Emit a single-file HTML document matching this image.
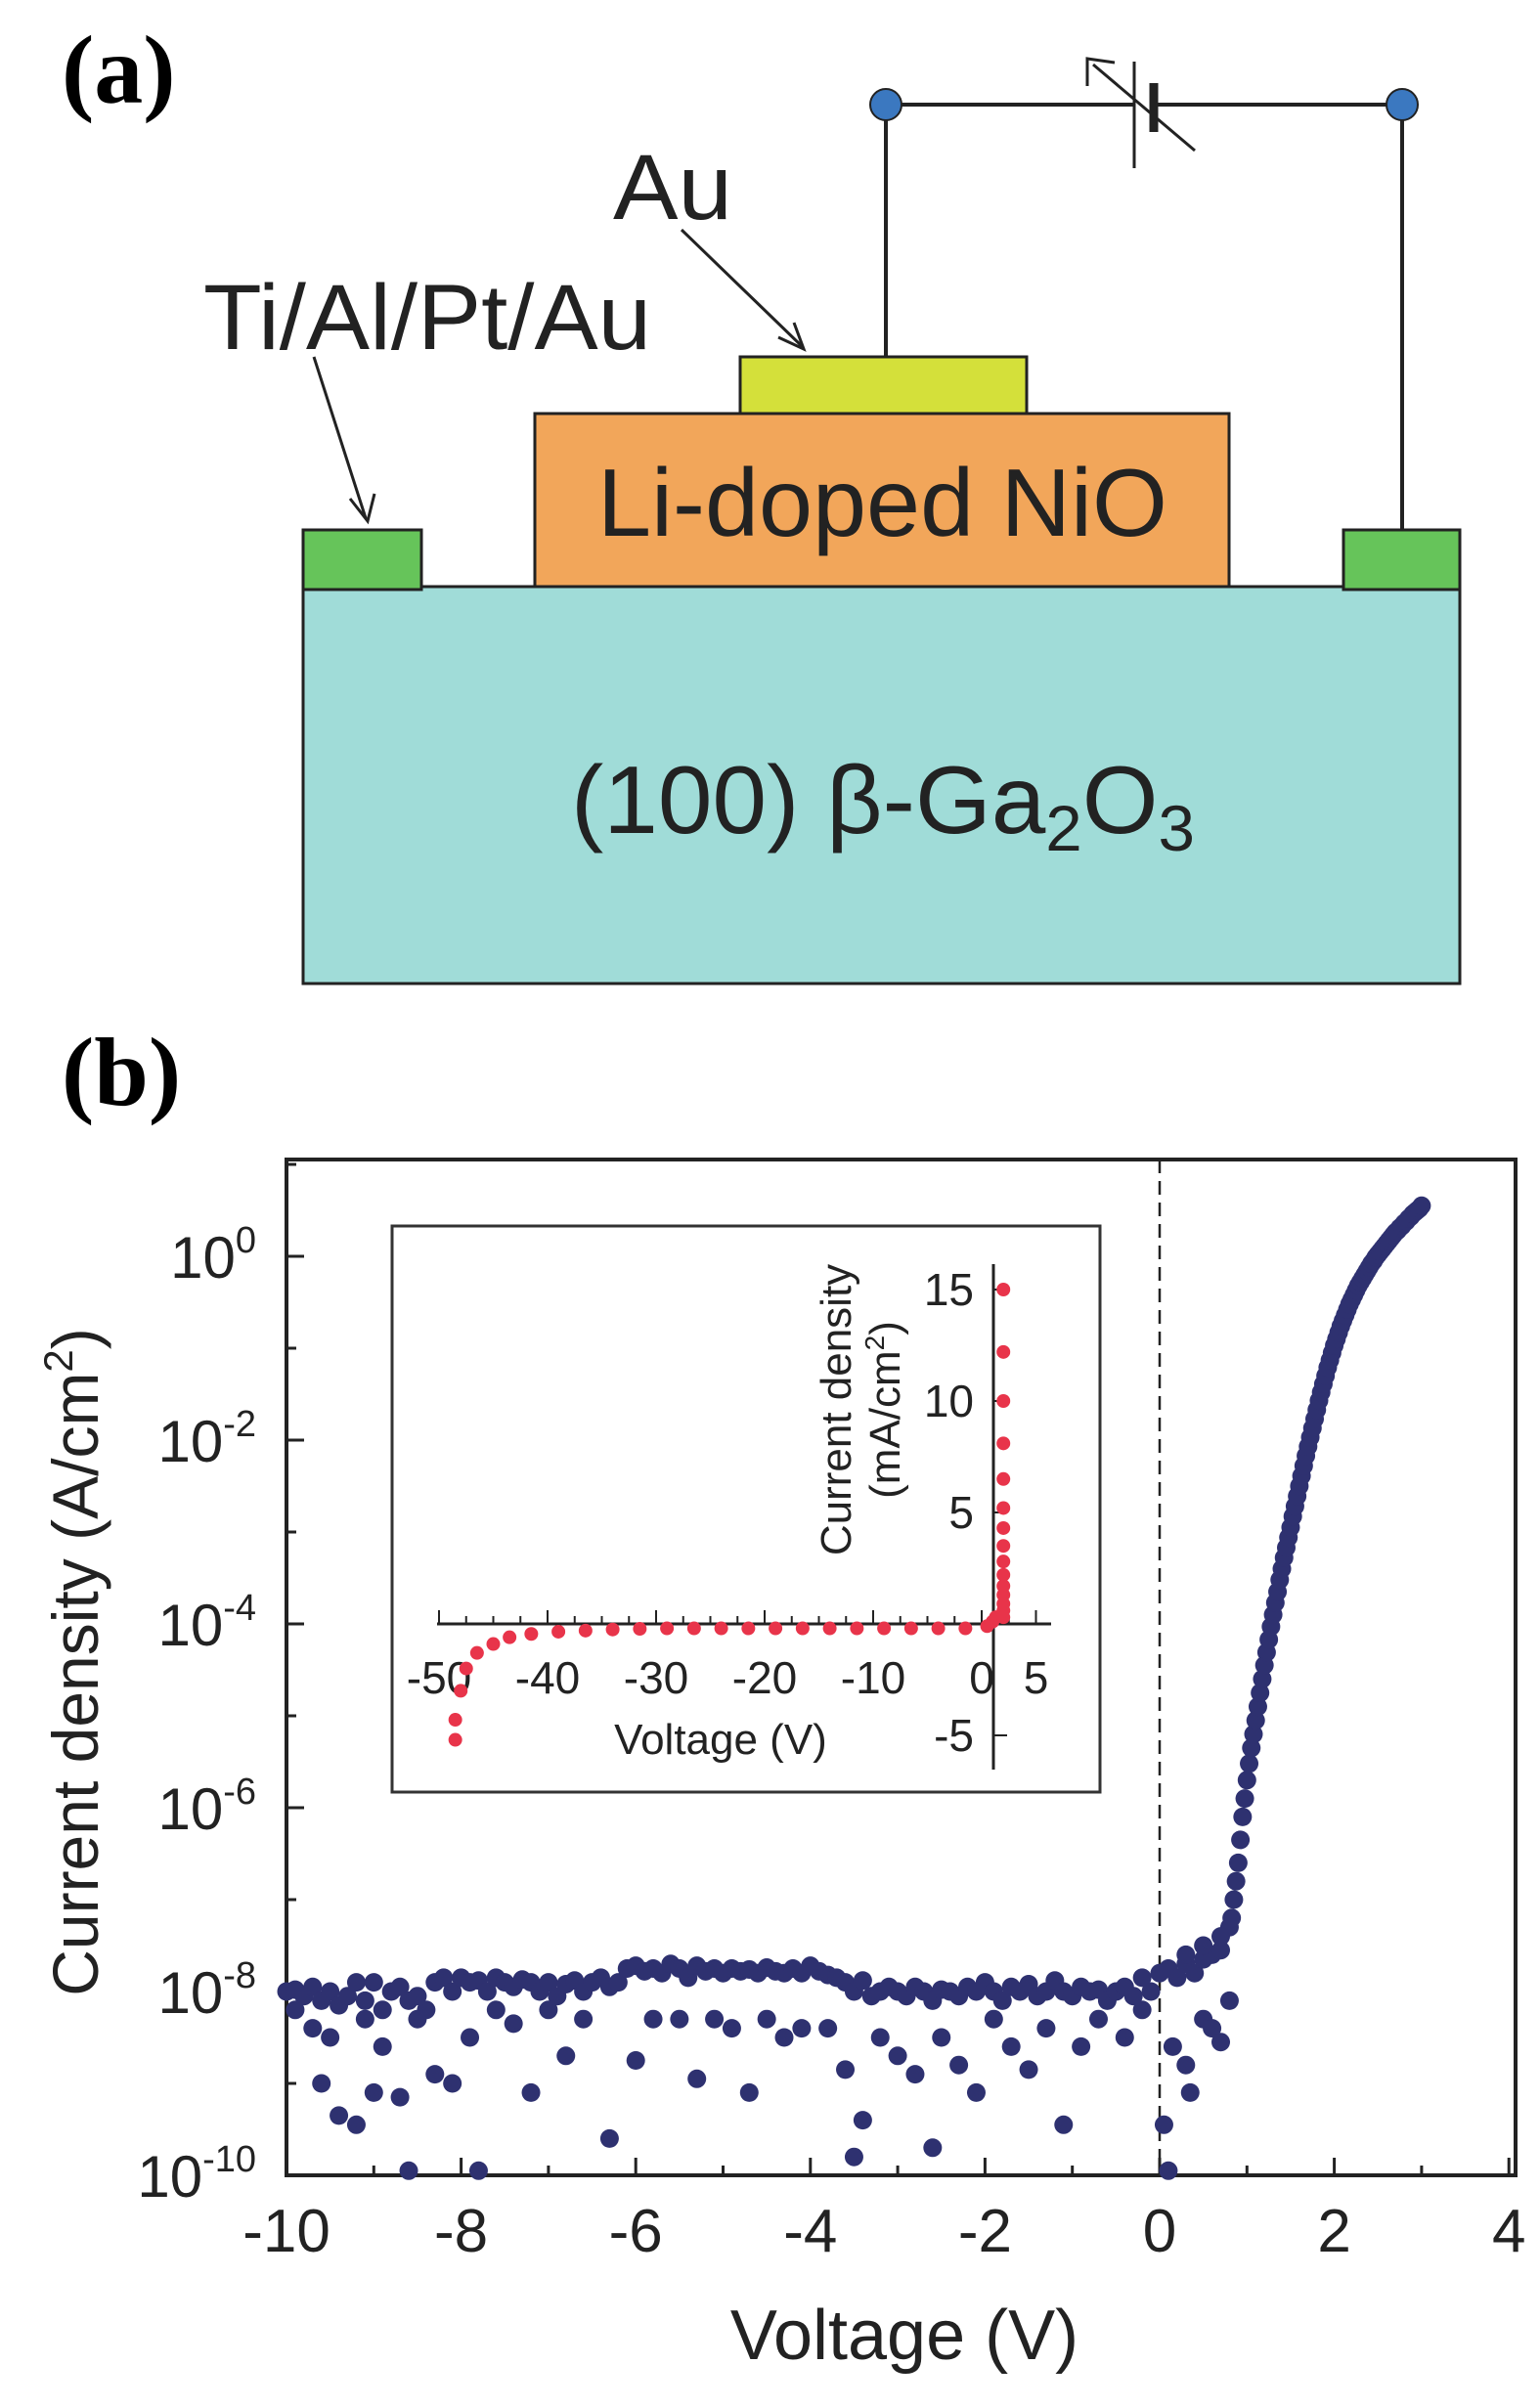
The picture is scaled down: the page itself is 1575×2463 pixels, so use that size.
<!DOCTYPE html>
<html><head><meta charset="utf-8"><style>
html,body{margin:0;padding:0;background:#fff;}
svg{display:block;font-family:"Liberation Sans",Arial,sans-serif;}
</style></head><body>
<svg id="fig" width="1575" height="2463" viewBox="0 0 1575 2463">
<g>
<text x="63" y="105" font-family="Liberation Serif,serif" font-weight="bold" font-size="100">(a)</text>
<rect x="310" y="600" width="1183" height="406" fill="#a0dcd8" stroke="#222" stroke-width="3"/>
<rect x="547" y="423" width="710" height="177" fill="#f2a65a" stroke="#222" stroke-width="3"/>
<rect x="757" y="365" width="293" height="58" fill="#d4e03a" stroke="#222" stroke-width="3"/>
<rect x="310" y="542" width="121" height="61" fill="#66c45a" stroke="#222" stroke-width="3"/>
<rect x="1374" y="542" width="119" height="61" fill="#66c45a" stroke="#222" stroke-width="3"/>
<g stroke="#222" stroke-width="4" fill="none">
<line x1="906" y1="107" x2="906" y2="365"/>
<line x1="1434" y1="107" x2="1434" y2="542"/>
<line x1="906" y1="107" x2="1160" y2="107"/>
<line x1="1180" y1="107" x2="1434" y2="107"/>
</g>
<line x1="1160" y1="63" x2="1160" y2="172" stroke="#222" stroke-width="3"/>
<line x1="1180" y1="85" x2="1180" y2="135" stroke="#222" stroke-width="9"/>
<line x1="1222" y1="154" x2="1118" y2="66" stroke="#222" stroke-width="3"/>
<polyline points="1112,88 1112,60 1140,64" fill="none" stroke="#222" stroke-width="3"/>
<circle cx="906" cy="107" r="16" fill="#3b78c0" stroke="#222" stroke-width="2"/>
<circle cx="1434" cy="107" r="16" fill="#3b78c0" stroke="#222" stroke-width="2"/>
<text x="627" y="224" font-size="95" textLength="122" lengthAdjust="spacingAndGlyphs" fill="#222">Au</text>
<text x="208" y="357" font-size="95" textLength="458" lengthAdjust="spacingAndGlyphs" fill="#222">Ti/Al/Pt/Au</text>
<line x1="697" y1="235" x2="820" y2="354" stroke="#222" stroke-width="3"/>
<polyline points="796,345 822,357 812,330" fill="none" stroke="#222" stroke-width="3"/>
<line x1="321" y1="365" x2="374" y2="530" stroke="#222" stroke-width="3"/>
<polyline points="358,510 376,533 383,505" fill="none" stroke="#222" stroke-width="3"/>
<text x="611" y="548" font-size="98" textLength="583" lengthAdjust="spacingAndGlyphs" fill="#222">Li-doped NiO</text>
<text x="584" y="852" font-size="98" textLength="638" lengthAdjust="spacingAndGlyphs" fill="#222">(100) β-Ga<tspan font-size="66" dy="18">2</tspan><tspan dy="-18">O</tspan><tspan font-size="66" dy="18">3</tspan></text>
</g>
<g id="pb">
<text x="63" y="1130" font-family="Liberation Serif,serif" font-weight="bold" font-size="100">(b)</text>
</g>
</svg>
<script>
// main plot data
const fwdStartV=0.825, fwdStepV=0.025;
const fwdLogJ=[-7.2,-7.0,-6.8,-6.6,-6.35,-6.1,-5.9,-5.7,-5.52,-5.35,-5.2,-5.05,-4.9,-4.75,-4.6,-4.45,-4.31,-4.17,-4.03,-3.9,-3.77,-3.65,-3.52,-3.4,-3.28,-3.17,-3.06,-2.95,-2.83,-2.72,-2.61,-2.5,-2.39,-2.28,-2.17,-2.07,-1.97,-1.87,-1.77,-1.67,-1.57,-1.48,-1.39,-1.3,-1.21,-1.13,-1.05,-0.97,-0.9,-0.83,-0.76,-0.7,-0.64,-0.58,-0.52,-0.47,-0.42,-0.37,-0.32,-0.28,-0.24,-0.2,-0.16,-0.12,-0.08,-0.05,-0.01,0.02,0.05,0.08,0.11,0.14,0.17,0.2,0.23,0.26,0.28,0.31,0.33,0.36,0.38,0.41,0.43,0.46,0.48,0.5,0.52,0.55];
const bandStartV=-10, bandStepV=0.1;
const bandLogJ=[-8.0,-7.98,-8.05,-7.95,-8.1,-8.0,-8.15,-8.05,-7.9,-8.1,
-7.9,-8.2,-8.0,-7.95,-8.1,-8.05,-8.2,-7.9,-7.85,-8.0,
-7.85,-7.9,-7.88,-8.0,-7.85,-7.9,-7.95,-7.87,-7.9,-8.0,
-7.9,-8.05,-7.92,-7.88,-8.0,-7.9,-7.85,-7.95,-7.9,-7.75,
-7.72,-7.78,-7.75,-7.8,-7.7,-7.75,-7.85,-7.72,-7.78,-7.75,
-7.8,-7.75,-7.78,-7.76,-7.8,-7.74,-7.78,-7.8,-7.75,-7.8,
-7.72,-7.78,-7.82,-7.85,-7.9,-8.0,-7.88,-8.05,-8.0,-7.95,
-8.0,-8.05,-7.95,-8.0,-8.1,-7.98,-8.0,-8.05,-7.95,-8.0,
-7.9,-8.0,-8.1,-7.95,-8.0,-7.92,-8.05,-8.0,-7.88,-8.0,
-8.05,-7.95,-8.0,-7.98,-8.1,-8.0,-7.95,-8.05,-7.85,-8.0,
-7.8,-7.75,-7.85,-7.7,-7.8,-7.65,-7.6,-7.55,-7.3];
const scatterV=[-9.9,-9.7,-9.6,-9.4,-9.5,-9.2,-9.1,-9.0,-8.9,-8.7,-8.6,-8.5,-8.3,-8.1,-7.9,-7.8,-7.6,-7.4,-7.2,-7.0,-6.8,-6.6,-6.3,-6.0,-5.8,-5.5,-5.3,-5.1,-4.9,-4.7,-4.5,-4.3,-4.1,-3.8,-3.6,-3.5,-3.4,-3.2,-3.0,-2.8,-2.6,-2.5,-2.3,-2.1,-1.9,-1.7,-1.5,-1.3,-1.1,-0.9,-0.7,-0.4,-0.2,0.05,0.1,0.15,0.3,0.35,0.5,0.6,0.7,0.8,0.3,0.5,0.7];
const scatterLogJ=[-8.2,-8.4,-9.0,-9.35,-8.5,-9.45,-8.3,-9.1,-8.6,-9.15,-9.95,-8.3,-8.9,-9.0,-8.5,-9.95,-8.2,-8.35,-9.1,-8.2,-8.7,-8.3,-9.6,-8.75,-8.3,-8.3,-8.95,-8.3,-8.4,-9.1,-8.3,-8.5,-8.4,-8.4,-8.85,-9.8,-9.4,-8.5,-8.7,-8.9,-9.7,-8.5,-8.8,-9.1,-8.3,-8.6,-8.85,-8.4,-9.45,-8.6,-8.3,-8.5,-8.2,-9.45,-9.95,-8.6,-8.8,-9.1,-8.3,-8.4,-8.55,-8.1,-7.6,-7.5,-7.4];
const xTickVals=[-10,-8,-6,-4,-2,0,2,4];
const xTickLabels=["-10","-8","-6","-4","-2","0","2","4"];
const yTickExps=[0,-2,-4,-6,-8,-10];
const yTickLabels=["0","-2","-4","-6","-8","-10"];
// inset data
const insetRevV=[-48.5,-48.5,-48,-47.5,-46.5,-45,-43.5,-41.5,-39,-36.5,-34,-31.5,-29,-26.5,-24,-21.5,-19,-16.5,-14,-11.5,-9,-6.5,-4,-1.5,0.5,1,1.3];
const insetRevJ=[-5.2,-4.3,-3.0,-2.0,-1.3,-0.9,-0.6,-0.45,-0.35,-0.3,-0.25,-0.22,-0.2,-0.2,-0.2,-0.2,-0.2,-0.2,-0.2,-0.2,-0.2,-0.2,-0.2,-0.2,-0.1,0.1,0.3];
const insetFwdV=[2,2,2,2,2,2,2,2,2,2,2,2,2,2,2];
const insetFwdJ=[15,12.2,10,8.1,6.5,5.2,4.3,3.5,2.8,2.2,1.7,1.3,0.9,0.6,0.3];
const insetXTicks=[-50,-40,-30,-20,-10,0,5];
const insetXLabels=["-50","-40","-30","-20","-10","0","5"];
const insetYTicks=[15,10,5,-5];
const insetYLabels=["15","10","5","-5"];

const NS="http://www.w3.org/2000/svg";
const pb=document.getElementById('pb');
function mk(tag,attrs,parent){const e=document.createElementNS(NS,tag);for(const k in attrs)e.setAttribute(k,attrs[k]);(parent||pb).appendChild(e);return e;}
const X0=293,XU=89.3,Y0=1285,YD=94;
const sx=v=>X0+(v+10)*XU;
const sy=l=>Y0-l*YD;
const L=293,R=1550,T=1186,B=2225;

const frame=mk('rect',{x:L,y:T,width:R-L,height:B-T,fill:'none',stroke:'#222','stroke-width':4});


const dz=mk('line',{x1:sx(0),x2:sx(0),y1:T,y2:B,stroke:'#222','stroke-width':2.5,'stroke-dasharray':'14,8'});


for(let v=-10;v<=4;v++){
  const major=(v%2===0);
  const t=mk('line',{x1:sx(v),x2:sx(v),y1:B,y2:B-(major?18:10),stroke:'#222','stroke-width':3});
  
  
}
xTickVals.forEach((v,i)=>{
  const t=mk('text',{x:sx(v),y:2303,'font-size':62,'text-anchor':'middle',fill:'#222'});
  t.textContent=xTickLabels[i];
  
  
});
for(let e=1;e>=-10;e--){
  const major=(e%2===0);
  const t=mk('line',{x1:L,x2:L+(major?18:10),y1:sy(e),y2:sy(e),stroke:'#222','stroke-width':3});
  
  
}
yTickExps.forEach((e,i)=>{
  const t=mk('text',{x:262,y:sy(e)+22,'font-size':60,'text-anchor':'end',fill:'#222'});
  const a=document.createElementNS(NS,'tspan');a.textContent='10';t.appendChild(a);
  const s=document.createElementNS(NS,'tspan');s.setAttribute('font-size','38');s.setAttribute('dy','-26');s.textContent=yTickLabels[i];t.appendChild(s);
  
  
});
const xt=mk('text',{x:925,y:2413,'font-size':72,'text-anchor':'middle',fill:'#222'});
xt.textContent='Voltage  (V)';


const yt=mk('text',{x:0,y:0,'font-size':66,'text-anchor':'middle',fill:'#222',transform:'translate(100,1700) rotate(-90)'});
yt.innerHTML='Current density  (A/cm<tspan font-size="42" dy="-26">2</tspan><tspan dy="26">)</tspan>';



const C='#2e3170',RB=9.5;
bandLogJ.forEach((l,i)=>{
  const c=mk('circle',{cx:sx(bandStartV+i*bandStepV),cy:sy(l),r:RB,fill:C});
  
  
});
scatterV.forEach((v,i)=>{
  const c=mk('circle',{cx:sx(v),cy:sy(scatterLogJ[i]),r:RB,fill:C});
  
  
});
fwdLogJ.forEach((l,i)=>{
  const c=mk('circle',{cx:sx(fwdStartV+i*fwdStepV),cy:sy(l),r:RB,fill:C});
  
  
});

const inset=mk('rect',{x:401,y:1254,width:724,height:579,fill:'#fff',stroke:'#333','stroke-width':3});


const IX0=1004,IXU=11.1,IY0=1661,IYU=22.8;
const ix=v=>IX0+v*IXU;
const iy=j=>IY0-j*IYU;
const ixa=mk('line',{x1:447,x2:1075,y1:IY0,y2:IY0,stroke:'#222','stroke-width':3});


const iya=mk('line',{x1:1016,x2:1016,y1:1293,y2:1810,stroke:'#222','stroke-width':3});


for(let v=-50;v<=5;v+=2.5){
  const major=(v%10===0)||v===5;
  const t=mk('line',{x1:ix(v),x2:ix(v),y1:IY0,y2:IY0-(major?14:8),stroke:'#222','stroke-width':2});
  
  
}
insetXTicks.forEach((v,i)=>{
  const t=mk('text',{x:ix(v),y:1732,'font-size':46,'text-anchor':'middle',fill:'#222'});
  t.textContent=insetXLabels[i];
  
  
});
insetYTicks.forEach((j,i)=>{
  const tk=mk('line',{x1:1016,x2:1030,y1:iy(j),y2:iy(j),stroke:'#222','stroke-width':2});
  
  
  const t=mk('text',{x:996,y:iy(j)+16,'font-size':46,'text-anchor':'end',fill:'#222'});
  t.textContent=insetYLabels[i];
  
  
});
const ixt=mk('text',{x:737,y:1794,'font-size':44,'text-anchor':'middle',fill:'#222'});
ixt.textContent='Voltage  (V)';


const iyt1=mk('text',{x:0,y:0,'font-size':44,'text-anchor':'middle',fill:'#222',transform:'translate(870,1442) rotate(-90)'});
iyt1.textContent='Current density';


const iyt2=mk('text',{x:0,y:0,'font-size':44,'text-anchor':'middle',fill:'#222',transform:'translate(920,1442) rotate(-90)'});
iyt2.innerHTML='(mA/cm<tspan font-size="28" dy="-16">2</tspan><tspan dy="16">)</tspan>';


const RC='#e8344a';
insetRevV.forEach((v,i)=>{
  const c=mk('circle',{cx:ix(v),cy:iy(insetRevJ[i]),r:7,fill:RC});
  
  
});
insetFwdV.forEach((v,i)=>{
  const c=mk('circle',{cx:ix(v),cy:iy(insetFwdJ[i]),r:7,fill:RC});
  
  
});
</script>
</body></html>
